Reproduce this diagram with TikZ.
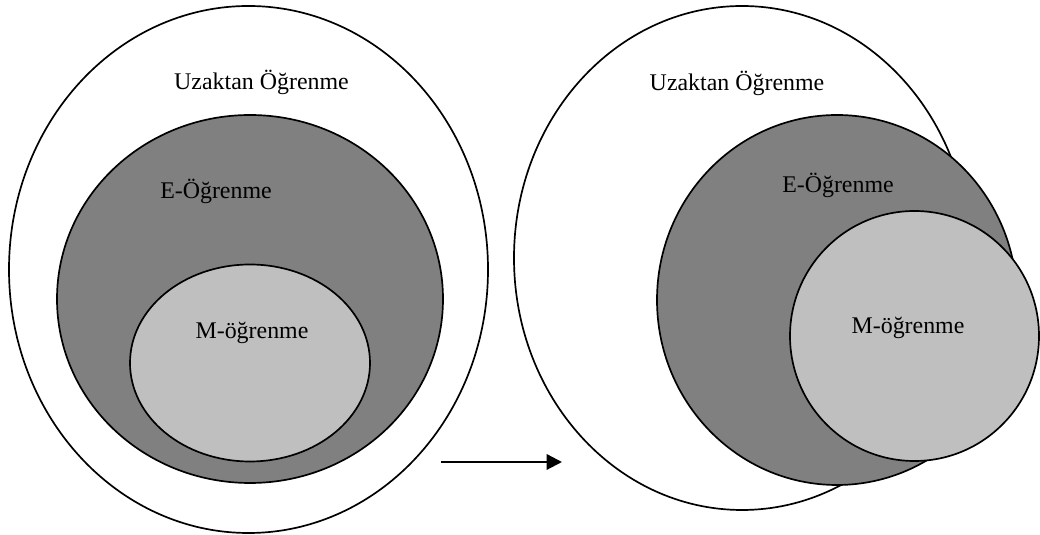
\documentclass[tikz,border=0pt]{standalone}
\usepackage{fontspec}
\setmainfont{Liberation Serif}
\usetikzlibrary{arrows.meta}
\begin{document}
\begin{tikzpicture}[font=\fontsize{17}{20}\selectfont,>=stealth,x=1cm,y=1cm,
    line width=1.2pt]
    \useasboundingbox (0,0) rectangle (26,13.375);

    % sol: iç içe kümeler
    \draw[fill=white] (6.2125,6.6375) ellipse (5.9875 and 6.5875);
    \draw[fill=black!50] (6.25,5.90) ellipse (4.825 and 4.60);
    \draw[fill=black!25] (6.25,4.30) ellipse (3.00 and 2.4625);
    \node (uzakL) at (6.5375,11.325) {Uzaktan Öğrenme};
    \node (eL) at (5.40,8.60) {E-Öğrenme};
    \node (mL) at (6.30,5.05) {M-öğrenme};

    % sağ: taşan kümeler
    \draw[fill=white] (18.55,6.925) ellipse (5.70 and 6.30);
    \draw[fill=black!50] (20.925,5.875) ellipse (4.50 and 4.625);
    \draw[fill=black!25] (22.8625,4.975) ellipse (3.1125 and 3.125);
    \node (uzakR) at (18.425,11.30) {Uzaktan Öğrenme};
    \node (eR) at (20.95,8.75) {E-Öğrenme};
    \node (mR) at (22.70,5.175) {M-öğrenme};

    \coordinate (okA) at (11.025,1.825);
    \coordinate (okB) at (14.05,1.825);
    \draw[-{Stealth[length=11pt,width=11pt,inset=0pt]},line width=1.6pt] (okA) -- (okB);
\end{tikzpicture}
\end{document}
